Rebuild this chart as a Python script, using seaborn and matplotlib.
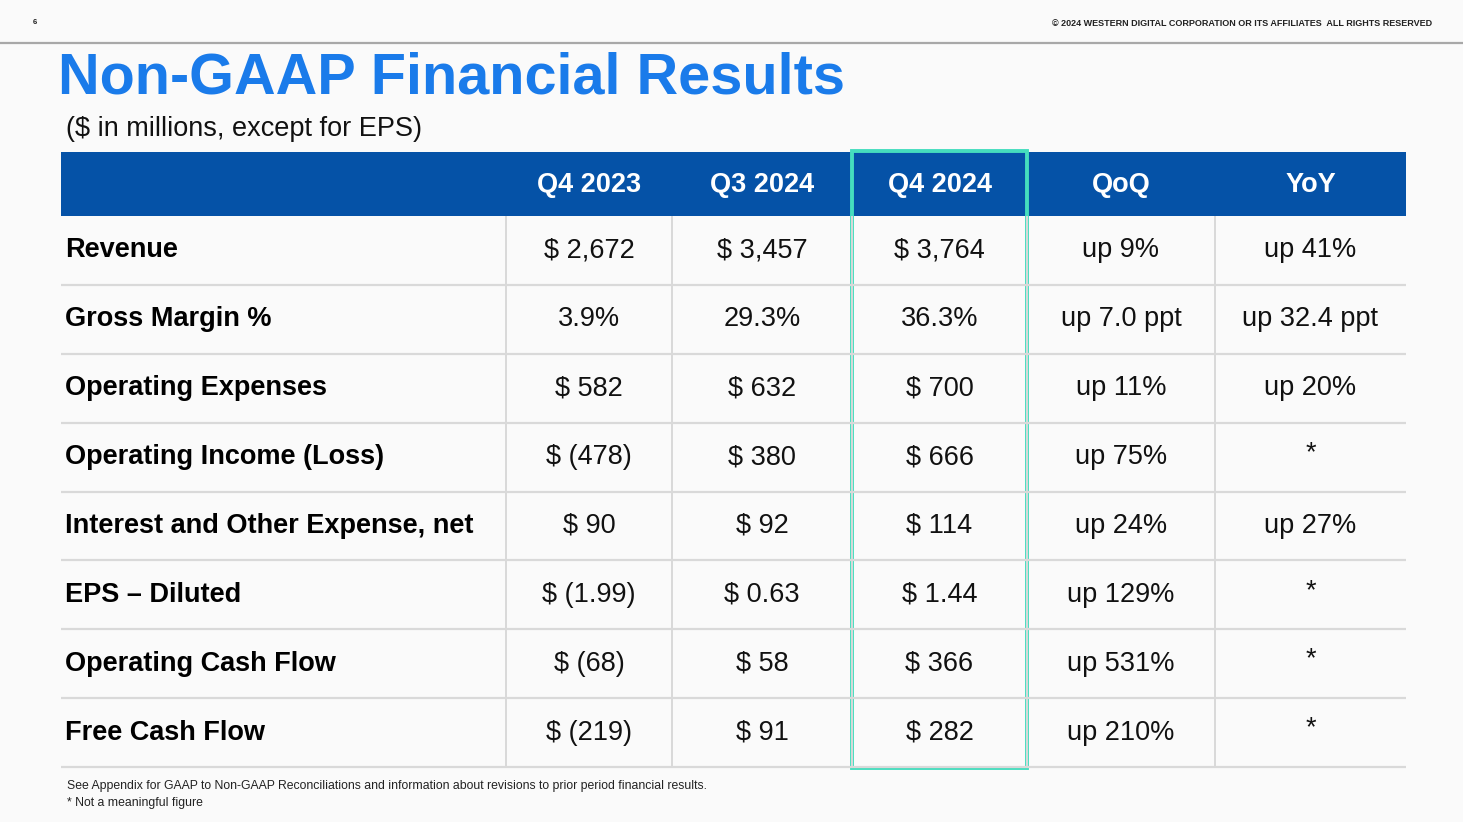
import matplotlib
matplotlib.use("Agg")
import matplotlib.pyplot as plt
import seaborn as sns
import pandas as pd

# table content
columns = ["Q4 2023", "Q3 2024", "Q4 2024", "QoQ", "YoY"]
metrics = [
    "Revenue",
    "Gross Margin %",
    "Operating Expenses",
    "Operating Income (Loss)",
    "Interest and Other Expense, net",
    "EPS \u2013 Diluted",
    "Operating Cash Flow",
    "Free Cash Flow",
]
q4_2023 = ["$ 2,672", "3.9%", "$ 582", "$ (478)", "$ 90", "$ (1.99)", "$ (68)", "$ (219)"]
q3_2024 = ["$ 3,457", "29.3%", "$ 632", "$ 380", "$ 92", "$ 0.63", "$ 58", "$ 91"]
q4_2024 = ["$ 3,764", "36.3%", "$ 700", "$ 666", "$ 114", "$ 1.44", "$ 366", "$ 282"]
qoq = ["up 9%", "up 7.0 ppt", "up 11%", "up 75%", "up 24%", "up 129%", "up 531%", "up 210%"]
yoy = ["up 41%", "up 32.4 ppt", "up 20%", "*", "up 27%", "*", "*", "*"]
highlight = "Q4 2024"

table = pd.DataFrame(
    {"Q4 2023": q4_2023, "Q3 2024": q3_2024, "Q4 2024": q4_2024, "QoQ": qoq, "YoY": yoy},
    index=metrics,
)

# layout (pixel space of the slide)
W, H = 1463, 822
col_edges = [61, 506, 672, 852, 1027, 1215, 1406]
header_top, header_bot = 152, 216
row_h = (767 - header_bot) / len(metrics)

bg = "#FAFAFA"
blue_hdr = "#0552A7"
title_blue = "#1A7BEA"
grid_c = "#D9D9D9"
green = "#45DDBE"

sns.set_theme(style="white")
plt.rcParams["font.family"] = ["Liberation Sans", "DejaVu Sans"]

fig = plt.figure(figsize=(W / 100, H / 100), dpi=100, facecolor=bg)
ax = fig.add_axes([0, 0, 1, 1])
ax.set_facecolor(bg)
ax.set_xlim(0, W)
ax.set_ylim(H, 0)
ax.axis("off")

# top strip
ax.text(35, 23, "6", fontsize=5.5, fontweight="bold", ha="center", va="center", color="#222222")
ax.text(1432, 23, "\u00a9 2024 WESTERN DIGITAL CORPORATION OR ITS AFFILIATES  ALL RIGHTS RESERVED",
        fontsize=6.5, fontweight="bold", ha="right", va="center", color="#222222")
ax.plot([0, W], [43.5, 43.5], color="#A8A8A8", lw=1.6, solid_capstyle="butt")

# titles
ax.text(58, 79, "Non-GAAP Financial Results", fontsize=41.5, fontweight="bold",
        color=title_blue, ha="left", va="center")
ax.text(66, 129, "($ in millions, except for EPS)", fontsize=19.5, color="#111111",
        ha="left", va="center")

# header bar
ax.add_patch(plt.Rectangle((col_edges[0], header_top), col_edges[-1] - col_edges[0],
                           header_bot - header_top, color=blue_hdr, lw=0))
for j, col in enumerate(table.columns):
    cx = (col_edges[j + 1] + col_edges[j + 2]) / 2
    ax.text(cx, (header_top + header_bot) / 2 + 1, col, fontsize=19.5, fontweight="bold",
            color="white", ha="center", va="center")

# body
body_bot = header_bot + row_h * len(metrics)
for i, metric in enumerate(table.index):
    y0 = header_bot + i * row_h
    cy = y0 + row_h / 2
    ax.text(65, cy, metric, fontsize=19.5, fontweight="bold", color="black",
            ha="left", va="center")
    for j, col in enumerate(table.columns):
        cx = (col_edges[j + 1] + col_edges[j + 2]) / 2
        val = table.loc[metric, col]
        ty = cy - 4 if val == "*" else cy  # asterisk sits a bit high in the source
        ax.text(cx, ty, val, fontsize=19.5, color="#111111", ha="center", va="center")
    ax.plot([col_edges[0], col_edges[-1]], [y0 + row_h, y0 + row_h], color=grid_c, lw=1.6,
            solid_capstyle="butt")

for x in col_edges[1:-1]:
    ax.plot([x, x], [header_bot, body_bot], color=grid_c, lw=1.4, solid_capstyle="butt")

# highlight box around the current quarter
k = list(table.columns).index(highlight) + 1
ax.add_patch(plt.Rectangle((col_edges[k], header_top - 1), col_edges[k + 1] - col_edges[k],
                           body_bot - header_top + 2, fill=False, edgecolor=green, lw=2.8))

# footnotes
ax.text(67, 786, "See Appendix for GAAP to Non-GAAP Reconciliations and information about "
        "revisions to prior period financial results.", fontsize=8.85, color="#222222",
        ha="left", va="center")
ax.text(67, 803, "* Not a meaningful figure", fontsize=8.85, color="#222222",
        ha="left", va="center")

fig.savefig("out.png", dpi=100, facecolor=bg)
